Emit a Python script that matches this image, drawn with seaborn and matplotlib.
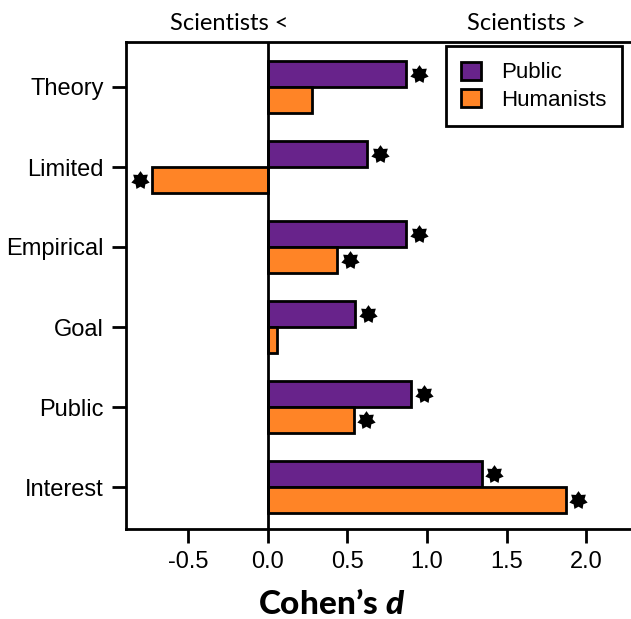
import numpy as np
import pandas as pd
import matplotlib
matplotlib.use('Agg')
import matplotlib.pyplot as plt
from matplotlib.path import Path
import seaborn as sns

# data
categories = ['Theory', 'Limited', 'Empirical', 'Goal', 'Public', 'Interest']
public_d = [0.87, 0.625, 0.87, 0.55, 0.90, 1.345]
humanists_d = [0.277, -0.727, 0.437, 0.06, 0.54, 1.87]
public_sig = [True, True, True, True, True, True]
humanists_sig = [False, True, True, False, True, True]
groups = ['Public', 'Humanists']
colors = ['#68238B', '#FF8426']

df = pd.DataFrame({
    'item': categories * 2,
    'd': public_d + humanists_d,
    'group': ['Public'] * len(categories) + ['Humanists'] * len(categories),
})

sns.set_style('white')
plt.rcParams['font.family'] = ['Liberation Sans', 'DejaVu Sans']
plt.rcParams['mathtext.fontset'] = 'custom'
plt.rcParams['mathtext.bfit'] = 'Lato:italic:black'

# 7-point star with shallow notches
ang = np.pi / 2 + np.arange(14) * np.pi / 7
rad = np.where(np.arange(14) % 2 == 0, 1.0, 0.66)
verts = np.column_stack([rad * np.cos(ang), rad * np.sin(ang)])
star = Path(np.vstack([verts, verts[:1]]), closed=True)

fig = plt.figure(figsize=(6.31, 6.19), dpi=100)
ax = fig.add_axes([126 / 631, 1 - 529 / 619, 1 - 126 / 631 + 0.02, (529 - 42) / 619])

sns.barplot(data=df, y='item', x='d', hue='group', hue_order=groups,
            palette=colors, saturation=1, orient='h', width=0.66,
            edgecolor='black', linewidth=2, ax=ax, legend=True)

# stars for significant effects
off = 0.33 / 2
for i in range(len(categories)):
    for vals, sig, dy in [(public_d, public_sig, -off), (humanists_d, humanists_sig, off)]:
        if sig[i]:
            v = vals[i]
            sx = v + 0.078 if v > 0 else v - 0.078
            ax.plot(sx, i + dy, marker=star, markersize=13.5, color='black',
                    markeredgewidth=0, clip_on=False, zorder=6)

ax.axvline(0, color='black', lw=2, zorder=5)
ax.set_xlim(-0.89, 2.28 + 0.02 * 631 / 159)
ax.set_ylim(5.525, -0.5625)
ax.set_xticks([-0.5, 0.0, 0.5, 1.0, 1.5, 2.0])
ax.set_xticklabels(['-0.5', '0.0', '0.5', '1.0', '1.5', '2.0'])
ax.set_ylabel('')
ax.set_xlabel("Cohen\u2019s $\\mathbfit{d}$", fontsize=24, fontweight='black',
              family=['Lato', 'DejaVu Sans'], color='black')
ax.xaxis.set_label_coords(0.398, -0.124)

for s in ['left', 'bottom', 'top']:
    ax.spines[s].set_linewidth(2)
    ax.spines[s].set_color('black')
ax.spines['right'].set_visible(False)
ax.tick_params(axis='both', which='both', direction='out', length=10, width=2,
               color='black', labelcolor='black', labelsize=17, pad=6,
               left=True, bottom=True)

ax.text(-0.24, -0.66, 'Scientists <', ha='center', va='bottom', fontsize=17,
        family=['Lato', 'DejaVu Sans'], color='black')
ax.text(1.625, -0.66, 'Scientists >', ha='center', va='bottom', fontsize=17,
        family=['Lato', 'DejaVu Sans'], color='black')

leg = ax.legend(loc='upper right', bbox_to_anchor=(622 / 631, 1 - 46 / 619),
                bbox_transform=fig.transFigure, borderaxespad=0, frameon=True,
                fancybox=False, framealpha=1, fontsize=16, handlelength=0.9,
                handleheight=0.9, handletextpad=0.9, borderpad=0.7,
                labelspacing=0.25, title=None)
leg.get_frame().set_edgecolor('black')
leg.get_frame().set_linewidth(2)
for t in leg.get_texts():
    t.set_color('black')
for h in leg.legend_handles:
    h.set_edgecolor('black')
    h.set_linewidth(2)

fig.savefig('out.png', dpi=100)
